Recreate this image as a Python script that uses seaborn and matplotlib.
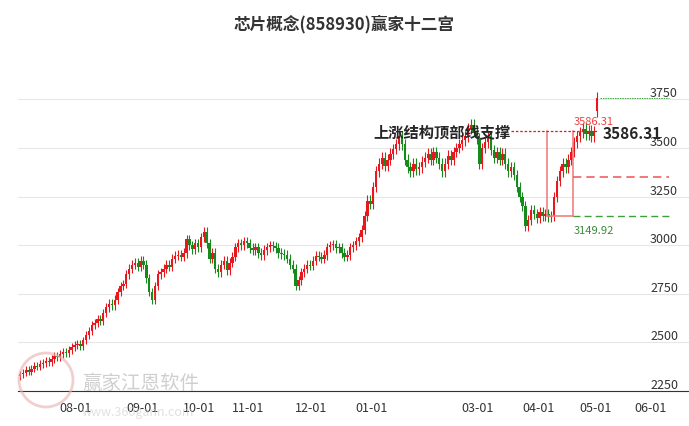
import matplotlib
matplotlib.use("Agg")
import matplotlib.pyplot as plt
from matplotlib.patches import Ellipse
import seaborn as sns
import numpy as np
import pandas as pd

sns.set_style("white")
plt.rcParams['font.family'] = ['Noto Sans CJK SC', 'DejaVu Sans']

# closes per month
jul = [2335, 2345, 2360, 2350, 2365, 2380, 2375, 2390, 2395, 2405, 2400, 2415, 2430, 2425, 2440, 2450, 2445, 2460, 2475, 2485]
aug = [2490, 2480, 2510, 2540, 2560, 2590, 2600, 2620, 2610, 2650, 2680, 2700, 2690, 2720, 2760, 2790, 2800, 2850, 2880, 2900, 2910, 2890, 2920]
sep = [2900, 2830, 2760, 2720, 2790, 2850, 2860, 2880, 2900, 2890, 2930, 2945, 2950, 2940, 2960, 3030, 3000, 2980, 3010, 2990]
oct_ = [3040, 3070, 3010, 2930, 2960, 2880, 2860, 2900, 2920, 2870, 2910, 2940, 2990, 3010, 3000, 3020, 3010]
nov = [2985, 2975, 2990, 2960, 2950, 2975, 2990, 3000, 2995, 2985, 2960, 2955, 2950, 2930, 2900, 2880, 2790, 2820, 2860, 2880, 2900, 2895]
dec = [2920, 2945, 2940, 2930, 2950, 2990, 3000, 3005, 2985, 2990, 2960, 2940, 2950, 2990, 3000, 3020, 3040, 3080, 3150, 3230, 3210]
jan = [3300, 3380, 3420, 3450, 3410, 3440, 3470, 3495, 3520, 3560, 3520, 3440, 3400, 3380, 3420, 3390, 3400, 3430, 3450, 3470, 3440, 3480]
feb = [3450, 3420, 3380, 3420, 3460, 3440, 3480, 3500, 3520, 3540, 3560, 3600, 3620, 3590, 3550]
mar = [3420, 3500, 3530, 3560, 3490, 3450, 3480, 3440, 3470, 3420, 3380, 3400, 3360, 3300, 3250, 3200, 3100, 3130, 3180, 3160, 3140]
apr = [3170, 3150, 3160, 3145, 3150, 3250, 3330, 3380, 3420, 3400, 3440, 3480, 3530, 3560, 3580, 3600, 3570, 3590, 3560, 3586]
may = [3760]
months = [jul, aug, sep, oct_, nov, dec, jan, feb, mar, apr, may]
month_labels = ["08-01", "09-01", "10-01", "11-01", "12-01", "01-01", "03-01", "04-01", "05-01", "06-01"]
first_open = 2325
may_open = 3690

top_line = 3586.31
low_line = 3149.92
mid_line = 3350
high_line = 3760

closes = np.array([c for m in months for c in m], dtype=float)
opens = np.concatenate([[first_open], closes[:-1]])
opens[-1] = may_open
hi = np.maximum(opens, closes) * 1.008
lo = np.minimum(opens, closes) * 0.992
idx = np.arange(len(closes))
df = pd.DataFrame({"i": idx, "o": opens, "c": closes, "h": hi, "l": lo})
df["up"] = df.c >= df.o

# month start positions (Feb has no label)
starts = list(np.cumsum([len(m) for m in months])[:-1])
starts.append(starts[-1] + 19)
del starts[6]
starts = [s - 0.5 for s in starts]

fig = plt.figure(figsize=(6.89, 4.27), dpi=100)
ax = fig.add_axes([18 / 689, 35 / 427, 671 / 689, 352 / 427])
red, green = "#e8161d", "#178a1e"
for _, r in df.iterrows():
    col = red if r.up else green
    ax.vlines(r.i, r.l, r.h, color=col, lw=0.8)
    ax.bar(r.i, max(abs(r.c - r.o), 4), bottom=min(r.o, r.c), width=0.85, color=col, lw=0)

ax.set_xlim(-0.7, 233)
ax.set_ylim(2250, 4061)
ax.set_yticks([2250, 2500, 2750, 3000, 3250, 3500, 3750])
ax.yaxis.tick_right()
ax.tick_params(axis="y", length=0, pad=-28, labelsize=9, labelcolor="#333333")
for lbl in ax.get_yticklabels():
    lbl.set_va("bottom")
ax.grid(axis="y", color="#e6e6e6", lw=0.8)
ax.set_xticks(starts)
ax.set_xticklabels(month_labels, fontsize=9, color="#333333")
ax.tick_params(axis="x", length=4, color="#333333")
for s in ["top", "left", "right"]:
    ax.spines[s].set_visible(False)
ax.spines["bottom"].set_color("#333333")

# structure annotation
xa, xb = 183.5, 192.5
ax.plot([xa, xa], [low_line, top_line], color="#f08080", lw=1.2)
ax.plot([xb, xb], [low_line, top_line], color="#f08080", lw=1.2)
ax.plot([xa, xb], [low_line, low_line], color="#f08080", lw=1.2)
ax.plot([171, 201], [top_line, top_line], color=red, lw=0.9, ls=(0, (2, 1.5)))
ax.plot([xb, 226], [low_line, low_line], color="#3aa13a", lw=1, ls=(0, (5, 3)))
ax.plot([xb, 226], [mid_line, mid_line], color="#f06060", lw=1.2, ls=(0, (5, 3)))
ax.plot([202, 226], [high_line, high_line], color="#3aa13a", lw=0.7, ls=(0, (1.5, 1)))
ax.text(123, top_line, "上涨结构顶部线支撑", fontsize=11, fontweight="bold", va="center")
ax.text(203, top_line - 10, "3586.31", fontsize=11, fontweight="bold", va="center")
ax.text(193, top_line + 55, "3586.31", fontsize=8, color="#f04040", va="center")
ax.text(193, low_line - 70, "3149.92", fontsize=8, color="#3a8a3a", va="center")

# watermark
seal = Ellipse((46 / 689, 46 / 427), 54 / 689, 54 / 427, transform=fig.transFigure, fill=False,
               ec="#e8b0b0", lw=2, alpha=0.6)
fig.patches.append(seal)
fig.text(82 / 689, 44 / 427, "赢家江恩软件", fontsize=14, color="#bbbbbb", alpha=0.7, va="center")
fig.text(82 / 689, 14 / 427, "www.360gann.com", fontsize=9, color="#cccccc", alpha=0.6, va="center")

fig.suptitle("芯片概念(858930)赢家十二宫", y=0.965, fontsize=12, fontweight="bold", color="#333333")
fig.savefig("out.png", dpi=100)
